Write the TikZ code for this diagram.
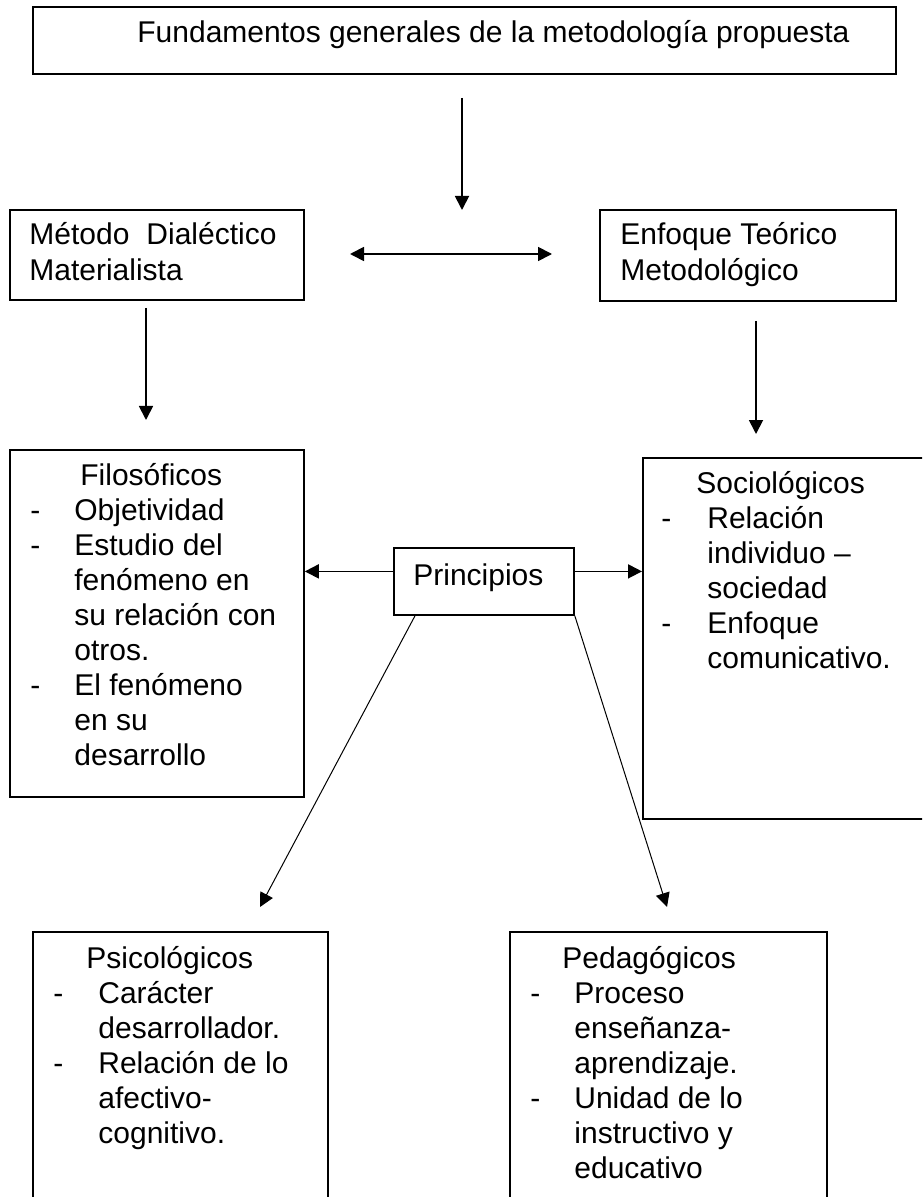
\documentclass[tikz,border=0pt]{standalone}
\usepackage{fontspec}
\setmainfont{Liberation Sans}
\usetikzlibrary{arrows.meta}

\begin{document}
\begin{tikzpicture}[x=0.5pt,y=-0.5pt,>={Triangle[length=7pt,width=7pt]}]
	\tikzstyle{caja} = [draw,line width=0.9pt,anchor=north west,inner sep=0pt]
	\tikzstyle{texto} = [anchor=base west,inner sep=0pt,font=\fontsize{15pt}{17.5pt}\selectfont]
	\tikzstyle{flecha} = [->,line width=0.9pt]
	\path[use as bounding box,clip] (0,0) rectangle (922,1197);

	% cajas
	\node[caja,minimum width=431.5pt,minimum height=33.5pt] (fund) at (32,6) {};
	\node[caja,minimum width=147pt,minimum height=45pt] (metodo) at (9,209) {};
	\node[caja,minimum width=148pt,minimum height=45.5pt] (enfoque) at (599,209) {};
	\node[caja,minimum width=147pt,minimum height=173.5pt] (filo) at (9,449) {};
	\node[caja,minimum width=149pt,minimum height=180.5pt] (socio) at (642,457) {};
	\node[caja,minimum width=90pt,minimum height=33.5pt] (princ) at (393,547) {};
	\node[caja,minimum width=147.5pt,minimum height=144.5pt] (psico) at (32,931) {};
	\node[caja,minimum width=158.5pt,minimum height=144.5pt] (pedago) at (509,931) {};

	% textos
	\node[texto] (fundt) at (137,43) {Fundamentos generales de la metodología propuesta};
	\node[texto] (metodot) at (29,245) {Método\hspace{8.5pt}Dialéctico};
	\node[texto] (metodot2) at (29,281) {Materialista};
	\node[texto] (enfoquet) at (620,245) {Enfoque Teórico};
	\node[texto] (enfoquet2) at (620,281) {Metodológico};
	\node[texto] (princt) at (413,585) {Principios};

	\node[texto] (filot) at (30,485) {\begin{tabular}[t]{@{}p{22pt}@{}l@{}}
		\multicolumn{2}{@{}l@{}}{\hspace{25pt}Filosóficos}\\
		- & Objetividad\\
		- & Estudio del\\
		  & fenómeno en\\
		  & su relación con\\
		  & otros.\\
		- & El fenómeno\\
		  & en su\\
		  & desarrollo
	\end{tabular}};
	\node[texto] (sociot) at (661,493) {\begin{tabular}[t]{@{}p{23pt}@{}l@{}}
		\multicolumn{2}{@{}l@{}}{\hspace{17.5pt}Sociológicos}\\
		- & Relación\\
		  & individuo –\\
		  & sociedad\\
		- & Enfoque\\
		  & comunicativo.
	\end{tabular}};
	\node[texto] (psicot) at (53,968) {\begin{tabular}[t]{@{}p{22.5pt}@{}l@{}}
		\multicolumn{2}{@{}l@{}}{\hspace{16.5pt}Psicológicos}\\
		- & Carácter\\
		  & desarrollador.\\
		- & Relación de lo\\
		  & afectivo-\\
		  & cognitivo.
	\end{tabular}};
	\node[texto] (pedagot) at (530,968) {\begin{tabular}[t]{@{}p{22pt}@{}l@{}}
		\multicolumn{2}{@{}l@{}}{\hspace{16pt}Pedagógicos}\\
		- & Proceso\\
		  & enseñanza-\\
		  & aprendizaje.\\
		- & Unidad de lo\\
		  & instructivo y\\
		  & educativo
	\end{tabular}};

	% flechas
	\coordinate (f1) at (462,98);
	\coordinate (f2) at (462,210);
	\coordinate (d1) at (350,254);
	\coordinate (d2) at (552,254);
	\coordinate (m1) at (146,308);
	\coordinate (m2) at (146,420);
	\coordinate (e1) at (756,321);
	\coordinate (e2) at (756,434);
	\coordinate (ps) at (260,907);
	\coordinate (pe) at (667,907);

	\draw[flecha] (f1) -- (f2);
	\draw[flecha,<->] (d1) -- (d2);
	\draw[flecha] (m1) -- (m2);
	\draw[flecha] (e1) -- (e2);
	\draw[flecha] ([yshift=5pt]princ.west) -- ([yshift=5pt]princ.west -| filo.east);
	\draw[flecha] ([yshift=5pt]princ.east) -- ([yshift=5pt]princ.east -| socio.west);
	\draw[flecha,line width=0.5pt] ([xshift=11pt]princ.south west) -- (ps);
	\draw[flecha,line width=0.5pt] (princ.south east) -- (pe);
\end{tikzpicture}
\end{document}
